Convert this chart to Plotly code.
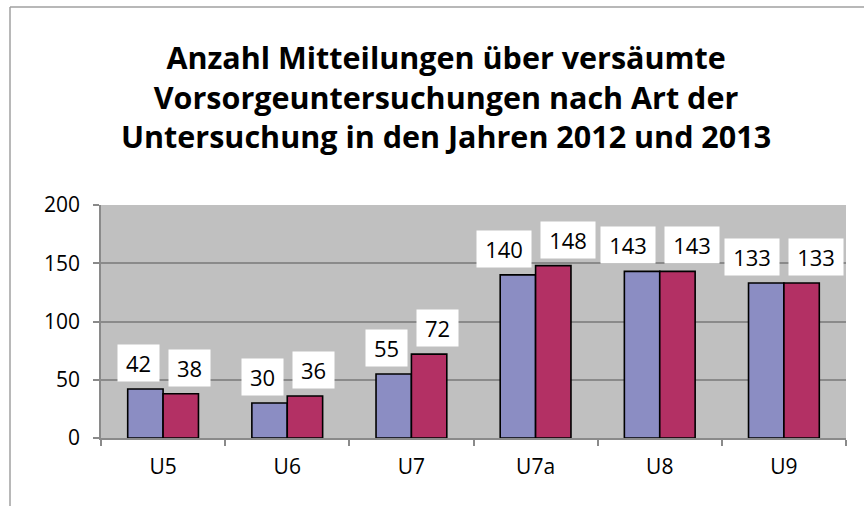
import plotly.graph_objects as go

categories = ["U5", "U6", "U7", "U7a", "U8", "U9"]
values_2012 = [42, 30, 55, 140, 143, 133]
values_2013 = [38, 36, 72, 148, 143, 133]
y_ticks = [0, 50, 100, 150, 200]
title_lines = ["Anzahl Mitteilungen über versäumte",
               "Vorsorgeuntersuchungen nach Art der",
               "Untersuchung in den Jahren 2012 und 2013"]

FONT = "Open Sans"
C1 = "#8B8DC3"
C2 = "#B33064"
GRID = "#8A8A8A"

# plot area in pixels: x 101..846, y 205..438
def px2x(p):
    return (p - 101) / 745

def px2y(p):
    return (438 - p) / 233

fig = go.Figure()
fig.add_trace(go.Bar(x=categories, y=values_2012, name="2012",
                     marker=dict(color=C1, line=dict(color="black", width=1.6))))
fig.add_trace(go.Bar(x=categories, y=values_2013, name="2013",
                     marker=dict(color=C2, line=dict(color="black", width=1.6))))

annotations = []
for cat, v1, v2 in zip(categories, values_2012, values_2013):
    for v, anchor, shift in ((v1, "right", -3.5), (v2, "left", 4.5)):
        s = str(v)
        annotations.append(dict(
            x=cat, y=v, xref="x", yref="y", text=s, showarrow=False,
            xanchor=anchor, yanchor="bottom", xshift=shift, yshift=7,
            bgcolor="white", borderpad=0,
            width=41 if len(s) < 3 else 54, height=36,
            font=dict(family=FONT, size=22, color="black")))

annotations.append(dict(
    x=px2x(446), y=px2y(96), xref="paper", yref="paper",
    text="<br>".join(title_lines), showarrow=False,
    xanchor="center", yanchor="middle", align="center",
    font=dict(family=FONT, size=30.5, color="black", weight="bold")))

fig.update_layout(
    width=864, height=506,
    margin=dict(l=101, r=18, t=205, b=68),
    paper_bgcolor="white", plot_bgcolor="#C0C0C0",
    barmode="group", bargap=0.43, bargroupgap=0,
    showlegend=False,
    annotations=annotations,
    font=dict(family=FONT, size=21, color="black"),
)

fig.update_xaxes(type="category", showline=True, linecolor=GRID, linewidth=1.5,
                 ticks="outside", tickson="boundaries", ticklen=6, tickcolor=GRID,
                 tickwidth=1.5, showgrid=False, ticklabelstandoff=9,
                 tickfont=dict(family=FONT, size=21))
fig.update_yaxes(range=[0, 200], tickvals=y_ticks, showline=True, linecolor=GRID,
                 linewidth=1.5, ticks="outside", ticklen=6, tickcolor=GRID, tickwidth=1.5,
                 gridcolor=GRID, gridwidth=1.5, zeroline=False, ticklabelstandoff=9,
                 tickfont=dict(family=FONT, size=21))

# outer chart border (left and top)
fig.add_shape(type="line", xref="paper", yref="paper",
              x0=px2x(10), x1=px2x(10), y0=px2y(7), y1=px2y(506),
              line=dict(color="#A0A0A0", width=1.5))
fig.add_shape(type="line", xref="paper", yref="paper",
              x0=px2x(10), x1=px2x(864), y0=px2y(7), y1=px2y(7),
              line=dict(color="#A0A0A0", width=1.5))

fig.write_html("out.html", config={"displayModeBar": False},
               post_script="document.body.style.margin='0';document.body.style.overflow='hidden';")
